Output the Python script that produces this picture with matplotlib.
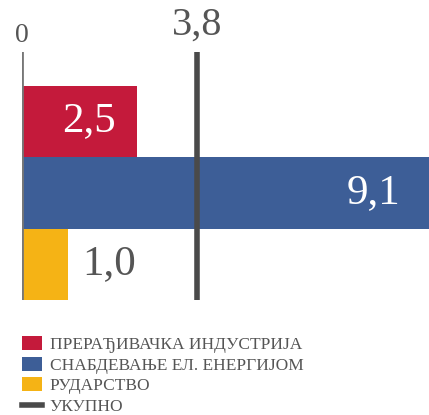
import matplotlib.pyplot as plt
from matplotlib.patches import Patch
from matplotlib.lines import Line2D

# подаци
categories = ['ПРЕРАЂИВАЧКА ИНДУСТРИЈА', 'СНАБДЕВАЊЕ ЕЛ. ЕНЕРГИЈОМ', 'РУДАРСТВО']
values = [2.5, 9.1, 1.0]
total_label = 'УКУПНО'
total = 3.8
colors = ['#C41A3B', '#3D5E97', '#F5B315']

plt.rcParams['font.family'] = ['Liberation Serif', 'DejaVu Serif']

fig = plt.figure(figsize=(4.29, 4.15), dpi=100)
W, H = 429, 415
ax = fig.add_axes([22 / W, 1 - 300 / H, (429 - 22) / W, (300 - 52) / H])

pos = list(range(len(values)))
ax.barh(pos, values, height=1.0, color=colors, zorder=2)
xmax = 8.85
ax.set_xlim(0, xmax)
ax.set_ylim(2.5, -0.97)

ax.axvline(0, color='#777777', lw=2, zorder=3)
ax.axvline(total, color='#4A4A4A', lw=4, zorder=3)

for s in ax.spines.values():
    s.set_visible(False)
ax.set_xticks([])
ax.set_yticks([])

# натписи вредности
def fmt(v):
    return f'{v:.1f}'.replace('.', ',')

ax.text(values[0] / 2 + 0.2, 0, fmt(values[0]), color='white', fontsize=31,
        ha='center', va='center')
# плава трака излази ван оквира, натпис уз десну ивицу
ax.text(min(values[1], xmax) - 0.62, 1, fmt(values[1]), color='white',
        fontsize=31, ha='right', va='center')
ax.text(values[2] + 0.3, 2, fmt(values[2]), color='#555555', fontsize=31,
        ha='left', va='center')

ax.text(0, -1.02, '0', color='#555555', fontsize=20, ha='center', va='bottom')
ax.text(total, -1.08, fmt(total), color='#555555', fontsize=29, ha='center',
        va='bottom')

handles = [Patch(facecolor=c, edgecolor='none') for c in colors]
handles.append(Line2D([0], [0], color='#4A4A4A', lw=4))
labels = categories + [total_label]
fig.legend(handles, labels, loc='upper left', bbox_to_anchor=(15 / W, 1 - 329 / H),
           frameon=False, fontsize=12.5, labelcolor='#555555',
           handlelength=1.15, handleheight=0.85, handletextpad=0.45,
           labelspacing=0.22, borderaxespad=0)

fig.savefig('out.png', dpi=100)
